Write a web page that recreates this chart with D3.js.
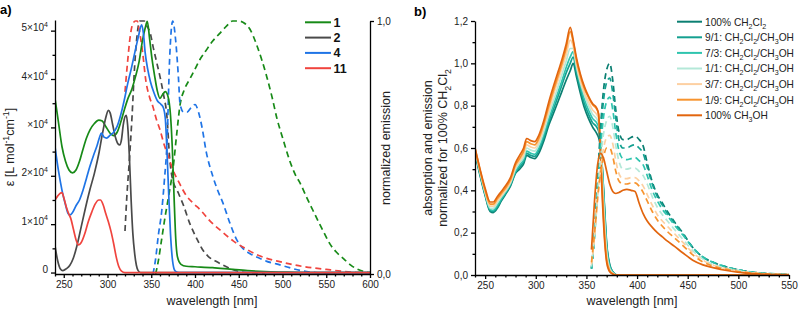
<!DOCTYPE html>
<html>
<head>
<meta charset="utf-8">
<script src="https://cdn.jsdelivr.net/npm/d3@7"></script>
<style>
  body { margin: 0; background: #fff; }
  svg { display: block; font-family: "Liberation Sans", Arial, sans-serif; }
</style>
</head>
<body>
<svg id="chart" width="800" height="316"></svg>
<script>
// ---- panel a data: [wavelength nm, value] ----
// absorption, epsilon in units of 1e4 L/(mol cm)
const abs1 = [[240,3.6],[244,3.1],[248,2.6],[252,2.3],[256,2.12],[260,2.06],[264,2.12],[268,2.3],[272,2.55],[276,2.78],[280,2.95],[285,3.08],[290,3.15],[294,3.13],[298,3.02],[303,2.88],[307,2.83],[311,2.9],[315,3.1],[319,3.35],[323,3.58],[328,3.8],[332,4.05],[336,4.35],[340,4.8],[343,5.05],[345.5,5.19],[348,4.85],[351,4.4],[354,4.05],[357,3.75],[360,3.6],[363,3.68],[366,3.74],[369,3.65],[372,3.25],[374,2.6],[376,1.6],[378,0.7],[380,0.32],[384,0.17],[390,0.13],[400,0.12],[420,0.1],[440,0.07],[460,0.04],[480,0.02],[500,0.01],[530,0],[600,0]];
const abs2 = [[240,0.55],[243,0.25],[246,0.08],[249,0.04],[253,0.08],[257,0.15],[261,0.3],[265,0.55],[270,0.95],[275,1.35],[280,1.72],[285,2.05],[290,2.45],[294,2.85],[298,3.2],[301,3.35],[303,3.3],[306,3.05],[309,2.8],[312,2.66],[314,2.64],[316,2.75],[318,3.05],[320,3.22],[321.5,3.25],[323,3.05],[325,2.4],[327,1.5],[329,0.8],[331,0.4],[333,0.15],[335,0.04],[338,0],[600,0]];
const abs4 = [[240,2.6],[244,2.1],[248,1.7],[252,1.4],[255,1.22],[257,1.19],[260,1.24],[264,1.38],[268,1.5],[272,1.7],[276,1.95],[280,2.2],[284,2.42],[288,2.62],[291,2.8],[293,2.88],[296,2.8],[299,2.78],[303,2.84],[307,2.9],[311,3.02],[315,3.25],[319,3.55],[323,3.9],[327,4.2],[331,4.53],[335,4.85],[339,5.12],[341,4.95],[343,4.55],[346,4.2],[349,3.95],[353,3.72],[357,3.55],[361,3.48],[364,3.4],[366,3.2],[368,2.5],[370,1.6],[372,0.8],[374,0.3],[376,0.08],[378,0.02],[382,0],[600,0]];
const abs11 = [[240,1.5],[243,1.58],[246,1.64],[248,1.65],[250,1.55],[253,1.35],[256,1.2],[258,1.12],[261,0.9],[264,0.68],[267,0.57],[270,0.62],[274,0.8],[278,1.05],[282,1.25],[286,1.42],[290,1.5],[292,1.5],[295,1.4],[298,1.22],[301,1.05],[304,0.85],[307,0.6],[310,0.32],[313,0.12],[316,0.03],[320,0],[600,0]];
// normalized emission
const em1 = [[355,0],[358,0.05],[362,0.14],[366,0.23],[370,0.31],[375,0.42],[379,0.55],[383,0.67],[388,0.73],[394,0.77],[400,0.81],[406,0.85],[412,0.88],[420,0.92],[428,0.95],[436,0.98],[443,1.0],[450,1.0],[457,0.99],[464,0.96],[470,0.91],[476,0.85],[482,0.78],[488,0.7],[494,0.61],[500,0.54],[508,0.45],[515,0.39],[520,0.36],[528,0.3],[535,0.25],[542,0.2],[548,0.16],[554,0.12],[562,0.085],[570,0.06],[578,0.035],[585,0.02],[593,0.01],[600,0.005]];
const em2 = [[320,0.17],[322,0.3],[325,0.45],[328,0.62],[331,0.82],[334,0.95],[337,1.0],[342,1.0],[345,0.98],[349,0.95],[352,0.9],[356,0.84],[360,0.78],[364,0.71],[368,0.62],[371,0.46],[374,0.38],[381,0.32],[387,0.27],[394,0.2],[402,0.14],[408,0.1],[415,0.07],[424,0.05],[432,0.035],[445,0.015],[460,0.005],[480,0]];
const em4 = [[352,0],[355,0.06],[358,0.15],[362,0.25],[365,0.37],[368,0.52],[371,0.85],[374.5,1.0],[378,0.92],[381,0.78],[383,0.67],[387,0.64],[391,0.64],[396,0.66],[400,0.67],[404,0.64],[408,0.58],[413,0.48],[420,0.39],[426,0.33],[432,0.28],[440,0.2],[447,0.14],[455,0.1],[463,0.08],[472,0.065],[482,0.05],[493,0.04],[508,0.025],[523,0.012],[540,0.005],[560,0]];
const em11 = [[320,0.72],[323,0.84],[326,0.94],[329,0.99],[332,1.0],[334,1.0],[336,0.97],[340,0.88],[344,0.76],[348,0.7],[352,0.66],[356,0.61],[360,0.57],[364,0.52],[370,0.46],[375,0.41],[382,0.36],[390,0.31],[398,0.28],[407,0.25],[417,0.21],[430,0.17],[444,0.13],[458,0.1],[470,0.077],[482,0.062],[493,0.052],[508,0.04],[523,0.03],[540,0.022],[555,0.016],[570,0.01],[585,0.006],[600,0.004]];

const namesA = ["1", "2", "4", "11"];
const colorsA = ["#178a17", "#4a4a4a", "#1f74e6", "#f0443e"];

// ---- panel b data ----
const absWl = [240,245,250,255,258,262,266,270,275,280,284,288,291,295,299,303,308,313,318,322,326,330,334,337,340,344,348,352,356,360,362,364,366,368,370,373,376,380,400,450,550];
const absDcm   = [0.575,0.47,0.375,0.30,0.295,0.315,0.35,0.38,0.42,0.48,0.50,0.525,0.565,0.555,0.55,0.575,0.635,0.71,0.77,0.82,0.87,0.92,0.965,1.0,0.94,0.86,0.79,0.74,0.70,0.67,0.65,0.60,0.48,0.31,0.15,0.05,0.015,0,0,0,0];
const abs91    = [0.58,0.475,0.38,0.305,0.30,0.32,0.355,0.385,0.425,0.485,0.51,0.535,0.575,0.565,0.56,0.59,0.65,0.725,0.79,0.845,0.90,0.955,1.0,1.03,0.96,0.88,0.81,0.76,0.72,0.70,0.68,0.62,0.48,0.30,0.14,0.045,0.015,0,0,0,0];
const abs73    = [0.585,0.48,0.385,0.31,0.305,0.33,0.36,0.39,0.43,0.49,0.52,0.545,0.585,0.575,0.57,0.60,0.665,0.74,0.81,0.865,0.92,0.98,1.03,1.055,0.98,0.90,0.83,0.78,0.74,0.72,0.70,0.63,0.47,0.28,0.13,0.04,0.012,0,0,0,0];
const abs11b   = [0.59,0.485,0.39,0.315,0.315,0.34,0.37,0.395,0.435,0.50,0.53,0.555,0.60,0.59,0.585,0.615,0.68,0.76,0.83,0.89,0.95,1.01,1.07,1.07,0.99,0.91,0.85,0.80,0.76,0.74,0.72,0.62,0.44,0.25,0.11,0.03,0.01,0,0,0,0];
const abs37    = [0.595,0.49,0.395,0.325,0.325,0.35,0.375,0.40,0.44,0.51,0.54,0.57,0.615,0.605,0.60,0.63,0.70,0.78,0.86,0.92,0.98,1.04,1.11,1.08,1.0,0.92,0.86,0.82,0.78,0.76,0.74,0.60,0.40,0.21,0.09,0.025,0.007,0,0,0,0];
const abs19    = [0.60,0.495,0.40,0.335,0.335,0.36,0.385,0.41,0.45,0.52,0.55,0.585,0.63,0.62,0.615,0.645,0.715,0.80,0.88,0.94,1.0,1.07,1.15,1.10,1.02,0.94,0.88,0.84,0.805,0.785,0.76,0.58,0.36,0.18,0.07,0.02,0.005,0,0,0,0];
const absMeoh  = [0.60,0.50,0.41,0.345,0.345,0.37,0.395,0.42,0.46,0.53,0.565,0.60,0.645,0.635,0.63,0.66,0.73,0.82,0.90,0.96,1.02,1.09,1.17,1.11,1.03,0.95,0.89,0.845,0.81,0.79,0.76,0.55,0.33,0.16,0.06,0.015,0.005,0,0,0,0];

const emWl = [355,358,361,364,367,370,373,376,379,382,386,390,394,398,402,406,410,415,420,425,430,437,445,455,465,475,490,505,520,550];
const emDcm  = [0.03,0.2,0.45,0.7,0.88,0.97,1.0,0.92,0.78,0.68,0.64,0.64,0.65,0.655,0.64,0.61,0.53,0.44,0.38,0.34,0.30,0.25,0.2,0.13,0.085,0.06,0.035,0.02,0.01,0.003];
const em91   = [0.03,0.19,0.43,0.66,0.83,0.91,0.93,0.86,0.74,0.64,0.60,0.60,0.61,0.615,0.60,0.575,0.51,0.43,0.37,0.33,0.29,0.245,0.195,0.13,0.085,0.06,0.036,0.02,0.01,0.003];
const em73   = [0.03,0.18,0.40,0.60,0.75,0.82,0.84,0.78,0.67,0.59,0.55,0.545,0.55,0.555,0.54,0.52,0.47,0.40,0.35,0.31,0.28,0.235,0.19,0.13,0.085,0.06,0.035,0.02,0.01,0.003];
const em11b  = [0.04,0.18,0.38,0.55,0.67,0.73,0.75,0.70,0.61,0.54,0.50,0.50,0.505,0.505,0.49,0.47,0.43,0.37,0.32,0.285,0.255,0.215,0.17,0.115,0.075,0.05,0.03,0.017,0.008,0.002];
const em37   = [0.05,0.18,0.36,0.50,0.60,0.65,0.66,0.62,0.54,0.48,0.455,0.455,0.46,0.46,0.445,0.42,0.38,0.33,0.285,0.255,0.23,0.195,0.155,0.105,0.07,0.047,0.028,0.015,0.008,0.002];
const em19   = [0.06,0.2,0.36,0.48,0.56,0.60,0.60,0.56,0.49,0.445,0.43,0.43,0.435,0.435,0.42,0.39,0.35,0.30,0.26,0.23,0.205,0.175,0.14,0.095,0.062,0.042,0.025,0.013,0.007,0.002];
const emMeoh = [0.12,0.35,0.52,0.575,0.55,0.49,0.43,0.395,0.385,0.39,0.40,0.405,0.40,0.395,0.34,0.29,0.255,0.225,0.20,0.18,0.16,0.135,0.105,0.07,0.048,0.035,0.02,0.01,0.005,0.001];

const namesB = ["100% CH_{2}Cl_{2}", "9/1: CH_{2}Cl_{2}/CH_{3}OH", "7/3: CH_{2}Cl_{2}/CH_{3}OH", "1/1: CH_{2}Cl_{2}/CH_{3}OH", "3/7: CH_{2}Cl_{2}/CH_{3}OH", "1/9: CH_{2}Cl_{2}/CH_{3}OH", "100% CH_{3}OH"];
const colorsB = ["#0b7f72", "#14a090", "#2fc4ae", "#b4e8d8", "#fdd0a2", "#f7942f", "#e2650e"];

// ticks
const aXTicks = [250,300,350,400,450,500,550,600];
const aYTicks = [0,1,2,3,4,5];
const aYLabels = ["0","1×10^{4}","2×10^{4}","×10^{4}","4×10^{4}","5×10^{4}"];
const aRTicks = [0,1];
const bXTicks = [250,300,350,400,450,500,550];
const bYTicks = [0,0.2,0.4,0.6,0.8,1.0,1.2];

const svg = d3.select("#chart");

// text with _{sub} and ^{sup} parts
function rich(textSel, str, size) {
  textSel.text(null);
  let shift = 0;
  const re = /([_^])\{([^}]*)\}|([^_^]+)/g;
  let m;
  while ((m = re.exec(str)) !== null) {
    let target = 0, content, fs = size;
    if (m[1]) {
      content = m[2];
      fs = size * 0.7;
      target = m[1] === "_" ? size * 0.3 : -size * 0.42;
    } else {
      content = m[3];
    }
    textSel.append("tspan")
      .attr("dy", target - shift)
      .attr("font-size", fs)
      .text(content);
    shift = target;
  }
}

function commaFmt(d) { return d.toFixed(1).replace(".", ","); }

function styleAxis(g) {
  g.selectAll("path, line").attr("stroke", "#000").attr("stroke-width", 1.3);
  g.selectAll("text").attr("fill", "#222").attr("font-size", 10)
    .attr("font-family", "'Liberation Sans', Arial, sans-serif");
}

// ================= panel a =================
const xa = d3.scaleLinear().domain([240, 600]).range([55, 370]);
const yaL = d3.scaleLinear().domain([-0.03, 5.22]).range([274, 20]);
const yaR = d3.scaleLinear().domain([0, 1]).range([274, 21]);

svg.append("clipPath").attr("id", "clipA").append("rect")
  .attr("x", 55).attr("y", 0).attr("width", 315).attr("height", 274);

const gA = svg.append("g").attr("clip-path", "url(#clipA)");
const lineAL = d3.line().x(d => xa(d[0])).y(d => yaL(d[1])).curve(d3.curveMonotoneX);
const lineAR = d3.line().x(d => xa(d[0])).y(d => yaR(d[1])).curve(d3.curveMonotoneX);

const absA = [abs1, abs2, abs4, abs11];
const emA = [em1, em2, em4, em11];

emA.forEach((s, i) => {
  gA.append("path").attr("d", lineAR(s)).attr("fill", "none")
    .attr("stroke", colorsA[i]).attr("stroke-width", 1.7)
    .attr("stroke-dasharray", "6,4");
});
absA.forEach((s, i) => {
  gA.append("path").attr("d", lineAL(s)).attr("fill", "none")
    .attr("stroke", colorsA[i]).attr("stroke-width", 1.7);
});

// axes a
const axA = svg.append("g").attr("transform", "translate(0,274)")
  .call(d3.axisBottom(xa).tickValues(aXTicks).tickSize(4).tickSizeOuter(0).tickPadding(3));
styleAxis(axA);
const minorXA = d3.range(240, 601, 10).filter(v => v % 50 !== 0);
const axAm = svg.append("g").attr("transform", "translate(0,274)")
  .call(d3.axisBottom(xa).tickValues(minorXA).tickSize(2.5).tickFormat(""));
styleAxis(axAm);
axAm.select(".domain").remove();

const ayA = svg.append("g").attr("transform", "translate(55,0)")
  .call(d3.axisLeft(yaL).tickValues(aYTicks).tickSize(4).tickSizeOuter(0).tickPadding(3));
styleAxis(ayA);
ayA.selectAll(".tick text").each(function(d, i) {
  rich(d3.select(this), aYLabels[i], 10);
});
const ayAm = svg.append("g").attr("transform", "translate(55,0)")
  .call(d3.axisLeft(yaL).tickValues([0.5,1.5,2.5,3.5,4.5]).tickSize(2.5).tickFormat(""));
styleAxis(ayAm);
ayAm.select(".domain").remove();

const arA = svg.append("g").attr("transform", "translate(370,0)")
  .call(d3.axisRight(yaR).tickValues(aRTicks).tickSize(4).tickSizeOuter(0).tickPadding(3).tickFormat(commaFmt));
styleAxis(arA);

// titles a
svg.append("text").attr("x", 0).attr("y", 14).attr("font-size", 13).attr("font-weight", "bold").text("a)");
svg.append("text").attr("x", 212).attr("y", 305).attr("text-anchor", "middle")
  .attr("font-size", 12.5).attr("fill", "#222").text("wavelength [nm]");
const tA = svg.append("text").attr("transform", "translate(14,147) rotate(-90)")
  .attr("text-anchor", "middle").attr("font-size", 12.5).attr("fill", "#222");
rich(tA, "ε [L mol^{-1}cm^{-1}]", 12.5);
svg.append("text").attr("transform", "translate(390,148) rotate(-90)")
  .attr("text-anchor", "middle").attr("font-size", 12.5).attr("fill", "#222").text("normalized emission");

// legend a
namesA.forEach((n, i) => {
  const y = 22.3 + i * 15.3;
  svg.append("line").attr("x1", 305).attr("x2", 331).attr("y1", y).attr("y2", y)
    .attr("stroke", colorsA[i]).attr("stroke-width", 2);
  svg.append("text").attr("x", 333.5).attr("y", y + 4.5).attr("font-size", 12.5)
    .attr("font-weight", "bold").attr("fill", "#111").text(n);
});

// ================= panel b =================
const xb = d3.scaleLinear().domain([240, 550]).range([475, 789]);
const yb = d3.scaleLinear().domain([0, 1.2]).range([275, 21]);

svg.append("clipPath").attr("id", "clipB").append("rect")
  .attr("x", 475).attr("y", 0).attr("width", 314).attr("height", 275);
const gB = svg.append("g").attr("clip-path", "url(#clipB)");
const lineB = d3.line().x(d => xb(d[0])).y(d => yb(d[1])).curve(d3.curveMonotoneX);

const absB = [absDcm, abs91, abs73, abs11b, abs37, abs19, absMeoh];
const emB = [emDcm, em91, em73, em11b, em37, em19, emMeoh];

absB.forEach((s, i) => {
  gB.append("path").attr("d", lineB(d3.zip(absWl, s))).attr("fill", "none")
    .attr("stroke", colorsB[i]).attr("stroke-width", 1.7);
});
emB.forEach((s, i) => {
  gB.append("path").attr("d", lineB(d3.zip(emWl, s))).attr("fill", "none")
    .attr("stroke", colorsB[i]).attr("stroke-width", 1.7)
    .attr("stroke-dasharray", i === emB.length - 1 ? null : "6,4");
});

const axB = svg.append("g").attr("transform", "translate(0,275)")
  .call(d3.axisBottom(xb).tickValues(bXTicks).tickSize(4).tickSizeOuter(0).tickPadding(3));
styleAxis(axB);
const minorXB = d3.range(240, 551, 10).filter(v => v % 50 !== 0);
const axBm = svg.append("g").attr("transform", "translate(0,275)")
  .call(d3.axisBottom(xb).tickValues(minorXB).tickSize(2.5).tickFormat(""));
styleAxis(axBm);
axBm.select(".domain").remove();

const ayB = svg.append("g").attr("transform", "translate(475,0)")
  .call(d3.axisLeft(yb).tickValues(bYTicks).tickSize(4).tickSizeOuter(0).tickPadding(3).tickFormat(commaFmt));
styleAxis(ayB);
const ayBm = svg.append("g").attr("transform", "translate(475,0)")
  .call(d3.axisLeft(yb).tickValues([0.1,0.3,0.5,0.7,0.9,1.1]).tickSize(2.5).tickFormat(""));
styleAxis(ayBm);
ayBm.select(".domain").remove();

svg.append("text").attr("x", 414).attr("y", 16).attr("font-size", 13).attr("font-weight", "bold").text("b)");
svg.append("text").attr("x", 632).attr("y", 305).attr("text-anchor", "middle")
  .attr("font-size", 12.5).attr("fill", "#222").text("wavelength [nm]");
svg.append("text").attr("transform", "translate(432,148) rotate(-90)")
  .attr("text-anchor", "middle").attr("font-size", 12.5).attr("fill", "#222").text("absorption and emission");
const tB = svg.append("text").attr("transform", "translate(447,148) rotate(-90)")
  .attr("text-anchor", "middle").attr("font-size", 12.5).attr("fill", "#222");
rich(tB, "normalized for 100% CH_{2}Cl_{2}", 12.5);

// legend b
namesB.forEach((n, i) => {
  const y = 21.7 + i * 15.6;
  svg.append("line").attr("x1", 677).attr("x2", 702).attr("y1", y).attr("y2", y)
    .attr("stroke", colorsB[i]).attr("stroke-width", 2);
  const t = svg.append("text").attr("x", 705).attr("y", y + 3.8).attr("font-size", 10.2).attr("fill", "#222");
  rich(t, n, 10.2);
});
</script>
</body>
</html>
